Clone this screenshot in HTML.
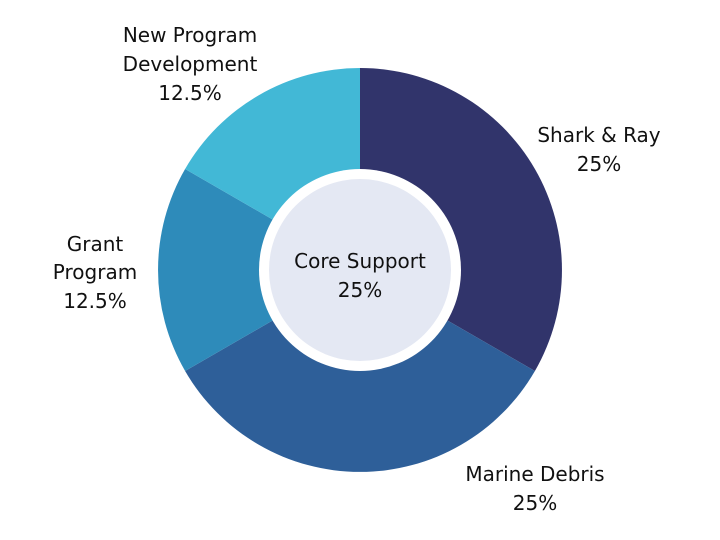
<!DOCTYPE html>
<html><head><style>
html,body{margin:0;padding:0;background:#fff;width:720px;height:540px;overflow:hidden}
text{font-family:"DejaVu Sans","Liberation Sans",sans-serif;font-size:20px;fill:#111}
</style></head><body>
<svg width="720" height="540" viewBox="0 0 720 540">
<path d="M360,270 L360,68 A202,202 0 0 1 534.9,371 Z" fill="#31346b"/>
<path d="M360,270 L534.9,371 A202,202 0 0 1 185.1,371 Z" fill="#2e5f99"/>
<path d="M360,270 L185.1,371 A202,202 0 0 1 185.1,169 Z" fill="#2e8bba"/>
<path d="M360,270 L185.1,169 A202,202 0 0 1 360,68 Z" fill="#42b8d6"/>
<circle cx="360" cy="270" r="101" fill="#fff"/>
<circle cx="360" cy="270" r="91" fill="#e4e8f3"/>
<g text-anchor="middle">
<text x="360" y="268">Core Support</text>
<text x="360" y="297">25%</text>
<text x="599" y="142">Shark &amp; Ray</text>
<text x="599" y="171">25%</text>
<text x="535" y="481">Marine Debris</text>
<text x="535" y="510">25%</text>
<text x="95" y="251">Grant</text>
<text x="95" y="279">Program</text>
<text x="95" y="308">12.5%</text>
<text x="190" y="42">New Program</text>
<text x="190" y="71">Development</text>
<text x="190" y="100">12.5%</text>
</g>
</svg>
</body></html>
